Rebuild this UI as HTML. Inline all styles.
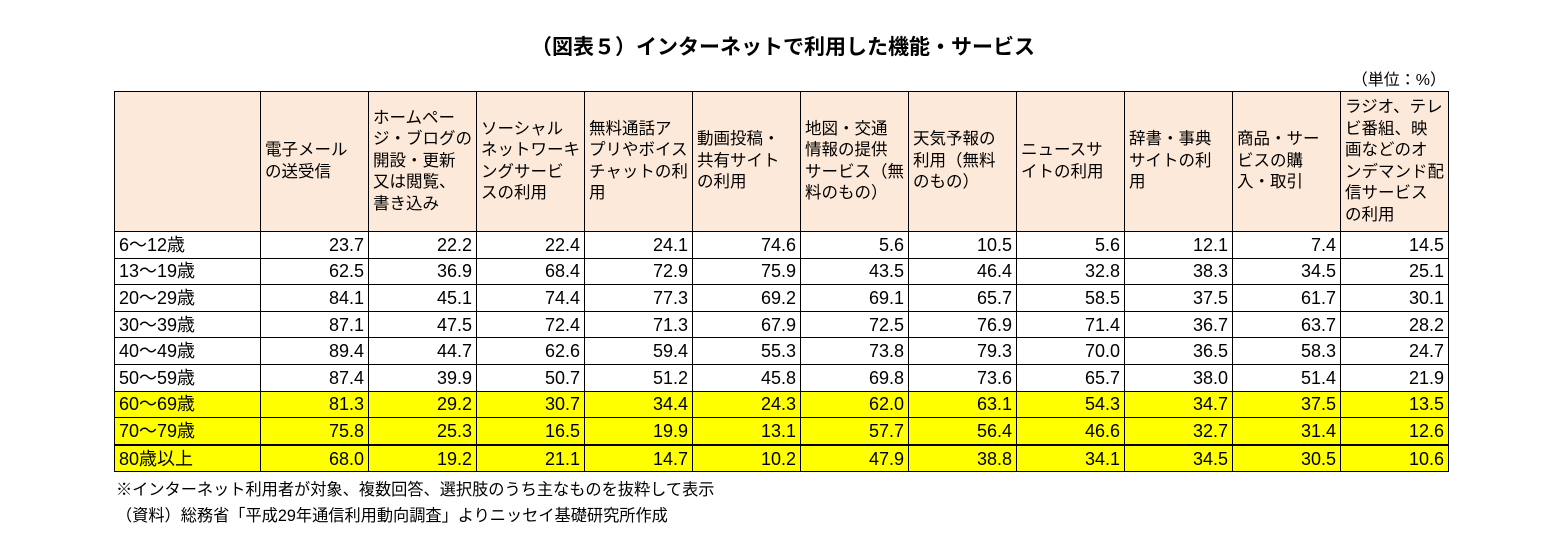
<!DOCTYPE html>
<html><head><meta charset="utf-8">
<style>
body{margin:0;width:1566px;height:534px;background:#fff;position:relative;font-family:"Liberation Sans","Noto Sans CJK JP",sans-serif;color:#000;overflow:hidden}
#title{position:absolute;left:0;width:1566px;top:31px;text-align:center;font-size:21px;font-weight:bold}
#unit{position:absolute;left:1300px;width:146px;top:66px;text-align:right;font-size:16px}
table{position:absolute;left:114px;top:91px;border-collapse:collapse;table-layout:fixed}
td{border:1.5px solid #000;padding:0 4px;font-size:18px;height:25.6px;line-height:20px;text-align:right;white-space:nowrap;overflow:hidden}
td.lab{text-align:left}
tr.hd td{background:#fde9d9;height:139px;text-align:left;font-size:16.5px;white-space:normal;line-height:21.5px;vertical-align:middle;padding:0 1px 0 4px}
tr.y td{background:#ffff00}
tr.last td{border-top:2.5px solid #000}
.note{position:absolute;left:116px;font-size:16.2px}
</style></head><body>
<div id="title">（図表５）インターネットで利用した機能・サービス</div>
<div id="unit">（単位：%）</div>
<table>
<colgroup><col style="width:146px"><col style="width:108px"><col style="width:108px"><col style="width:108px"><col style="width:108px"><col style="width:108px"><col style="width:108px"><col style="width:108px"><col style="width:108px"><col style="width:108px"><col style="width:108px"><col style="width:108px"></colgroup>
<tbody id="tb"></tbody>
</table>
<div class="note" style="top:476px">※インターネット利用者が対象、複数回答、選択肢のうち主なものを抜粋して表示</div>
<div class="note" style="top:502px">（資料）総務省「平成29年通信利用動向調査」よりニッセイ基礎研究所作成</div>
<script>
const headers=["電子メール<br>の送受信","ホームペー<br>ジ・ブログの<br>開設・更新<br>又は閲覧、<br>書き込み","ソーシャル<br>ネットワーキ<br>ングサービ<br>スの利用","無料通話ア<br>プリやボイス<br>チャットの利<br>用","動画投稿・<br>共有サイト<br>の利用","地図・交通<br>情報の提供<br>サービス（無<br>料のもの）","天気予報の<br>利用（無料<br>のもの）","ニュースサ<br>イトの利用","辞書・事典<br>サイトの利<br>用","商品・サー<br>ビスの購<br>入・取引","ラジオ、テレ<br>ビ番組、映<br>画などのオ<br>ンデマンド配<br>信サービス<br>の利用"];
const ages=["6～12歳","13～19歳","20～29歳","30～39歳","40～49歳","50～59歳","60～69歳","70～79歳","80歳以上"];
const values=[
[23.7,22.2,22.4,24.1,74.6,5.6,10.5,5.6,12.1,7.4,14.5],
[62.5,36.9,68.4,72.9,75.9,43.5,46.4,32.8,38.3,34.5,25.1],
[84.1,45.1,74.4,77.3,69.2,69.1,65.7,58.5,37.5,61.7,30.1],
[87.1,47.5,72.4,71.3,67.9,72.5,76.9,71.4,36.7,63.7,28.2],
[89.4,44.7,62.6,59.4,55.3,73.8,79.3,70.0,36.5,58.3,24.7],
[87.4,39.9,50.7,51.2,45.8,69.8,73.6,65.7,38.0,51.4,21.9],
[81.3,29.2,30.7,34.4,24.3,62.0,63.1,54.3,34.7,37.5,13.5],
[75.8,25.3,16.5,19.9,13.1,57.7,56.4,46.6,32.7,31.4,12.6],
[68.0,19.2,21.1,14.7,10.2,47.9,38.8,34.1,34.5,30.5,10.6]];
const tb=document.getElementById('tb');
let h='<tr class="hd"><td></td>';
headers.forEach(t=>{h+='<td>'+t+'</td>';});
h+='</tr>';
ages.forEach((a,i)=>{
 const cls=(i>=6?'y':'')+(i===8?' last':'');
 h+='<tr class="'+cls+'"><td class="lab">'+a+'</td>';
 values[i].forEach(v=>{h+='<td>'+v.toFixed(1)+'</td>';});
 h+='</tr>';
});
tb.innerHTML=h;
</script>
</body></html>
